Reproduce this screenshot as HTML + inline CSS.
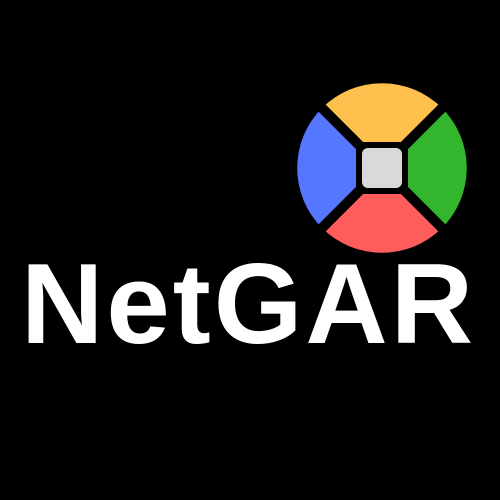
<!DOCTYPE html>
<html><head><meta charset="utf-8"><style>
html,body{margin:0;padding:0;background:#000;width:500px;height:500px;overflow:hidden}
svg{display:block}
</style></head><body>
<svg width="500" height="500" viewBox="0 0 500 500">
<rect width="500" height="500" fill="#000"/>
<g>
<path d="M382 168 L322 108 A85 85 0 0 1 442 108 Z" fill="#FFC04D"/>
<path d="M382 168 L442 108 A85 85 0 0 1 442 228 Z" fill="#33B52E"/>
<path d="M382 168 L442 228 A85 85 0 0 1 322 228 Z" fill="#FF5C5C"/>
<path d="M382 168 L322 228 A85 85 0 0 1 322 108 Z" fill="#5577FF"/>
<line x1="312" y1="98" x2="452" y2="238" stroke="#000" stroke-width="10"/>
<line x1="452" y1="98" x2="312" y2="238" stroke="#000" stroke-width="10"/>
<rect x="356" y="142" width="52" height="52" rx="8" fill="#000"/>
<rect x="362" y="148" width="40" height="40" rx="6" fill="#D9D9D9"/>
</g>
<text x="21" y="343" font-family="Liberation Sans, sans-serif" font-weight="bold" font-size="114" letter-spacing="3" fill="#fff">NetGAR</text>
</svg>
</body></html>
